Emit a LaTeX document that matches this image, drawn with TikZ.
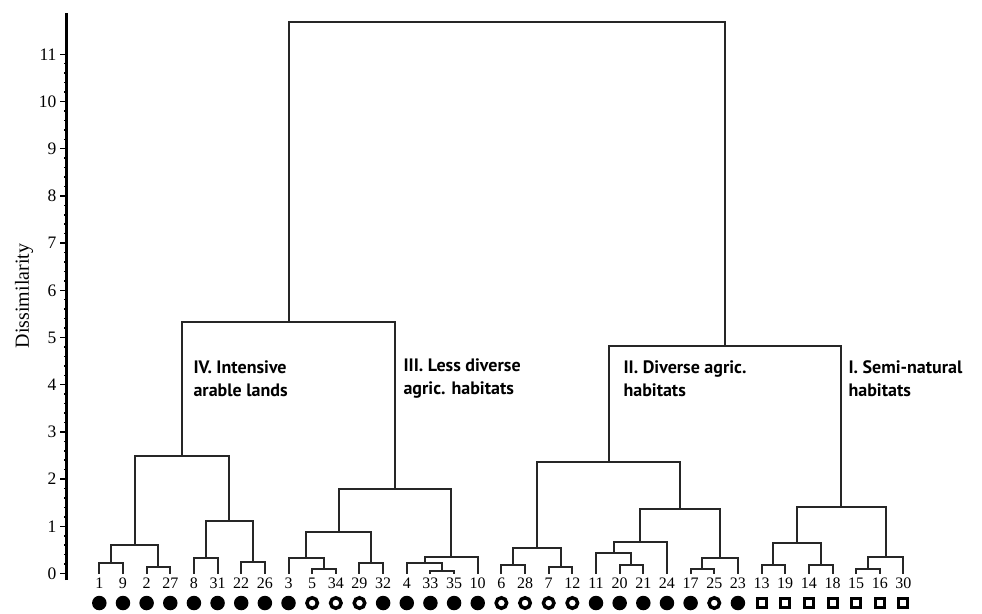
\documentclass[tikz,border=0pt]{standalone}
\usepackage{fontspec}
\setmainfont{Liberation Serif}
\newfontfamily\grpfont{PT Sans}
\usetikzlibrary{calc}
\tikzstyle{link} = [line width=2pt, draw=black!85]
\tikzstyle{axisline} = [line width=3pt, draw=black]
\tikzstyle{tickline} = [line width=1.5pt, draw=black]
\tikzstyle{leaflabel} = [anchor=base, inner sep=0, font=\fontsize{16}{16}\selectfont]
\tikzstyle{ticklabel} = [anchor=east, inner sep=0, xshift=-2.5pt, font=\fontsize{17.5}{17.5}\selectfont]
\tikzstyle{grouplabel} = [anchor=west, inner sep=0, align=left, font=\grpfont\bfseries\fontsize{18}{23}\selectfont]
\tikzstyle{symf} = [circle, fill=black, minimum size=14.5pt, inner sep=0]
\tikzstyle{symo} = [circle, draw=black, line width=3.5pt, minimum size=10.5pt, inner sep=0]
\tikzstyle{syms} = [rectangle, draw=black, line width=3pt, minimum size=9pt, inner sep=0]
% join two clusters at a given dissimilarity
\newcommand{\merge}[4]{%
  \coordinate (mid) at ($(#2)!0.5!(#3)$);
  \coordinate (#1) at (mid |- 0,#4);
  \draw [link] (#2) |- (#1) -| (#3);
}

\begin{document}
\begin{tikzpicture}[x=23.65pt, y=47.2pt]
    \useasboundingbox (-4.199,-0.837) rectangle (37.32,12.15);

    % axis
    \coordinate (axbot) at (-1.378,-0.138);
    \coordinate (axtop) at (-1.378,11.88);
    \draw [axisline] (axbot) -- (axtop);
    \foreach \d in {0.2,0.4,...,10.9}
        \draw [tickline] (axbot |- 0,\d) -- ++(-0.127,0);
    \foreach \d in {0,...,11}
        \draw [tickline] (axbot |- 0,\d) -- ++(-0.296,0) node (tick\d) [ticklabel] {\d};
    \node (ylab) [rotate=90, font=\fontsize{20}{20}\selectfont] at (-3.18,5.88) {Dissimilarity};

    % leaves
    \foreach \lab/\sym [count=\i from 0] in {1/f, 9/f, 2/f, 27/f, 8/f, 31/f, 22/f, 26/f,
        3/f, 5/o, 34/o, 29/o, 32/f, 4/f, 33/f, 35/f, 10/f,
        6/o, 28/o, 7/o, 12/o, 11/f, 20/f, 21/f, 24/f, 17/f, 25/o, 23/f,
        13/s, 19/s, 14/s, 18/s, 15/s, 16/s, 30/s} {
        \coordinate (l\lab) at (\i,0);
        \node (t\lab) [leaflabel] at (\i,-0.31) {\lab};
        \node (s\lab) [sym\sym] at (\i,-0.625) {};
    }

    % IV
    \merge{m1}{l1}{l9}{0.216}
    \merge{m2}{l2}{l27}{0.131}
    \merge{m3}{m1}{m2}{0.60}
    \merge{m4}{l8}{l31}{0.32}
    \merge{m5}{l22}{l26}{0.25}
    \merge{m6}{m4}{m5}{1.12}
    \merge{cIV}{m3}{m6}{2.49}

    % III
    \merge{m7}{l5}{l34}{0.095}
    \merge{m8}{l3}{m7}{0.32}
    \merge{m9}{l29}{l32}{0.216}
    \merge{m10}{m8}{m9}{0.885}
    \merge{m11}{l33}{l35}{0.06}
    \merge{m12}{l4}{m11}{0.216}
    \merge{m13}{m12}{l10}{0.34}
    \merge{cIII}{m10}{m13}{1.79}

    % II
    \merge{m14}{l6}{l28}{0.18}
    \merge{m15}{l7}{l12}{0.144}
    \merge{m16}{m14}{m15}{0.534}
    \merge{m17}{l20}{l21}{0.18}
    \merge{m18}{l11}{m17}{0.43}
    \merge{m19}{m18}{l24}{0.67}
    \merge{m20}{l17}{l25}{0.095}
    \merge{m21}{m20}{l23}{0.32}
    \merge{m22}{m19}{m21}{1.37}
    \merge{cII}{m16}{m22}{2.36}

    % I
    \merge{m23}{l13}{l19}{0.18}
    \merge{m24}{l14}{l18}{0.18}
    \merge{m25}{m23}{m24}{0.64}
    \merge{m26}{l15}{l16}{0.095}
    \merge{m27}{m26}{l30}{0.34}
    \merge{cI}{m25}{m27}{1.41}

    % top levels
    \merge{left}{cIV}{cIII}{5.33}
    \merge{right}{cII}{cI}{4.82}
    \merge{root}{left}{right}{11.69}

    % group names
    \node (grpIV) [grouplabel] at (3.975,4.13) {IV. Intensive\\arable lands};
    \node (grpIII) [grouplabel] at (12.854,4.13) {III. Less diverse\\agric. habitats};
    \node (grpII) [grouplabel] at (22.156,4.13) {II. Diverse agric.\\habitats};
    \node (grpI) [grouplabel] at (31.67,4.13) {I. Semi-natural\\habitats};
  \end{tikzpicture}
\end{document}
